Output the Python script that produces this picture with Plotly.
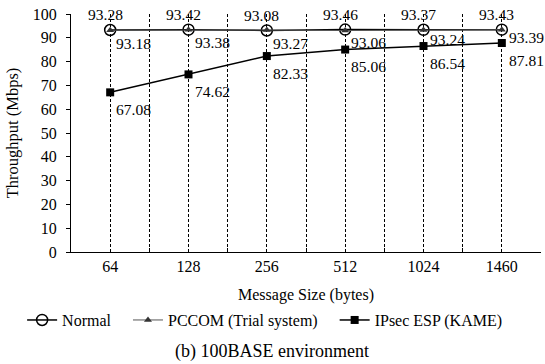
import plotly.graph_objects as go

categories = ["64", "128", "256", "512", "1024", "1460"]
normal = [93.28, 93.42, 93.08, 93.46, 93.37, 93.43]
pccom = [93.18, 93.38, 93.27, 93.06, 93.24, 93.39]
ipsec = [67.08, 74.62, 82.33, 85.06, 86.54, 87.81]
y_ticks = [0, 10, 20, 30, 40, 50, 60, 70, 80, 90, 100]

xs = list(range(len(categories)))
FONT = "Liberation Serif, Times New Roman, serif"
PAD = "\u00a0" * 3

fig = go.Figure()
fig.add_trace(go.Scatter(x=xs, y=normal, name="Normal" + PAD, mode="lines+markers",
                         line=dict(color="black", width=1.5),
                         marker=dict(symbol="circle-open", size=11, color="black", line=dict(width=1.5))))
fig.add_trace(go.Scatter(x=xs, y=pccom, name="PCCOM (Trial system)" + PAD, mode="lines+markers",
                         line=dict(color="#555555", width=1),
                         marker=dict(symbol="triangle-up", size=7, color="#333333")))
fig.add_trace(go.Scatter(x=xs, y=ipsec, name="IPsec ESP (KAME)", mode="lines+markers",
                         line=dict(color="black", width=1.5),
                         marker=dict(symbol="square", size=8, color="black")))

LBL = 15.5
ann = []
for i, v in enumerate(normal):
    ann.append(dict(x=xs[i], y=v, xref="x", yref="y", text=f"{v:.2f}", showarrow=False,
                    xanchor="center", yanchor="middle", xshift=-5, yshift=15,
                    font=dict(family=FONT, size=LBL, color="black")))
pc_shift = [(4, -13), (4, -13), (4, -13), (4, -12), (4, -9), (5, -8)]
for i, v in enumerate(pccom):
    dx, dy = pc_shift[i]
    ann.append(dict(x=xs[i], y=v, xref="x", yref="y", text=f"{v:.2f}", showarrow=False,
                    xanchor="left", yanchor="middle", xshift=dx, yshift=dy,
                    font=dict(family=FONT, size=LBL, color="black")))
for i, v in enumerate(ipsec):
    dx = 5 if i == 5 else 4
    ann.append(dict(x=xs[i], y=v, xref="x", yref="y", text=f"{v:.2f}", showarrow=False,
                    xanchor="left", yanchor="middle", xshift=dx, yshift=-17,
                    font=dict(family=FONT, size=LBL, color="black")))
ann.append(dict(x=0.4287, y=-0.42, xref="paper", yref="paper", text="(b) 100BASE environment",
                showarrow=False, xanchor="center", yanchor="middle",
                font=dict(family=FONT, size=18, color="black")))

fig.update_layout(
    width=545, height=364,
    margin=dict(l=71, r=4, t=14, b=112),
    paper_bgcolor="white", plot_bgcolor="white",
    font=dict(family=FONT, size=16, color="black"),
    showlegend=True,
    legend=dict(orientation="h", x=-0.104, xanchor="left",
                y=-0.286, yanchor="middle",
                font=dict(family=FONT, size=16), itemwidth=30, tracegroupgap=0),
    annotations=ann,
    xaxis=dict(range=[-0.5, 5.5], tickvals=xs, ticktext=categories, showline=True,
               linecolor="black", linewidth=1, ticks="", showgrid=True, gridcolor="black",
               griddash="3px,2px", gridwidth=1, zeroline=False, tickangle=0,
               tickfont=dict(family=FONT, size=16),
               minor=dict(tickvals=[0.5, 1.5, 2.5, 3.5, 4.5], showgrid=True, gridcolor="black",
                          griddash="3px,2px", gridwidth=1, ticks="inside", ticklen=4, tickcolor="black"),
               title=dict(text="Message Size (bytes)", font=dict(family=FONT, size=16), standoff=14)),
    yaxis=dict(range=[0, 100], tickvals=y_ticks, showline=True, linecolor="black", linewidth=1,
               ticks="outside", ticklen=4, tickcolor="black", showgrid=False, zeroline=False,
               ticklabelstandoff=6,
               tickfont=dict(family=FONT, size=16),
               title=dict(text="Throughput (Mbps)", font=dict(family=FONT, size=16.5), standoff=10)),
)
fig.write_html("out.html", config={"displayModeBar": False},
               post_script="document.body.style.margin='0';document.body.style.padding='0';")
